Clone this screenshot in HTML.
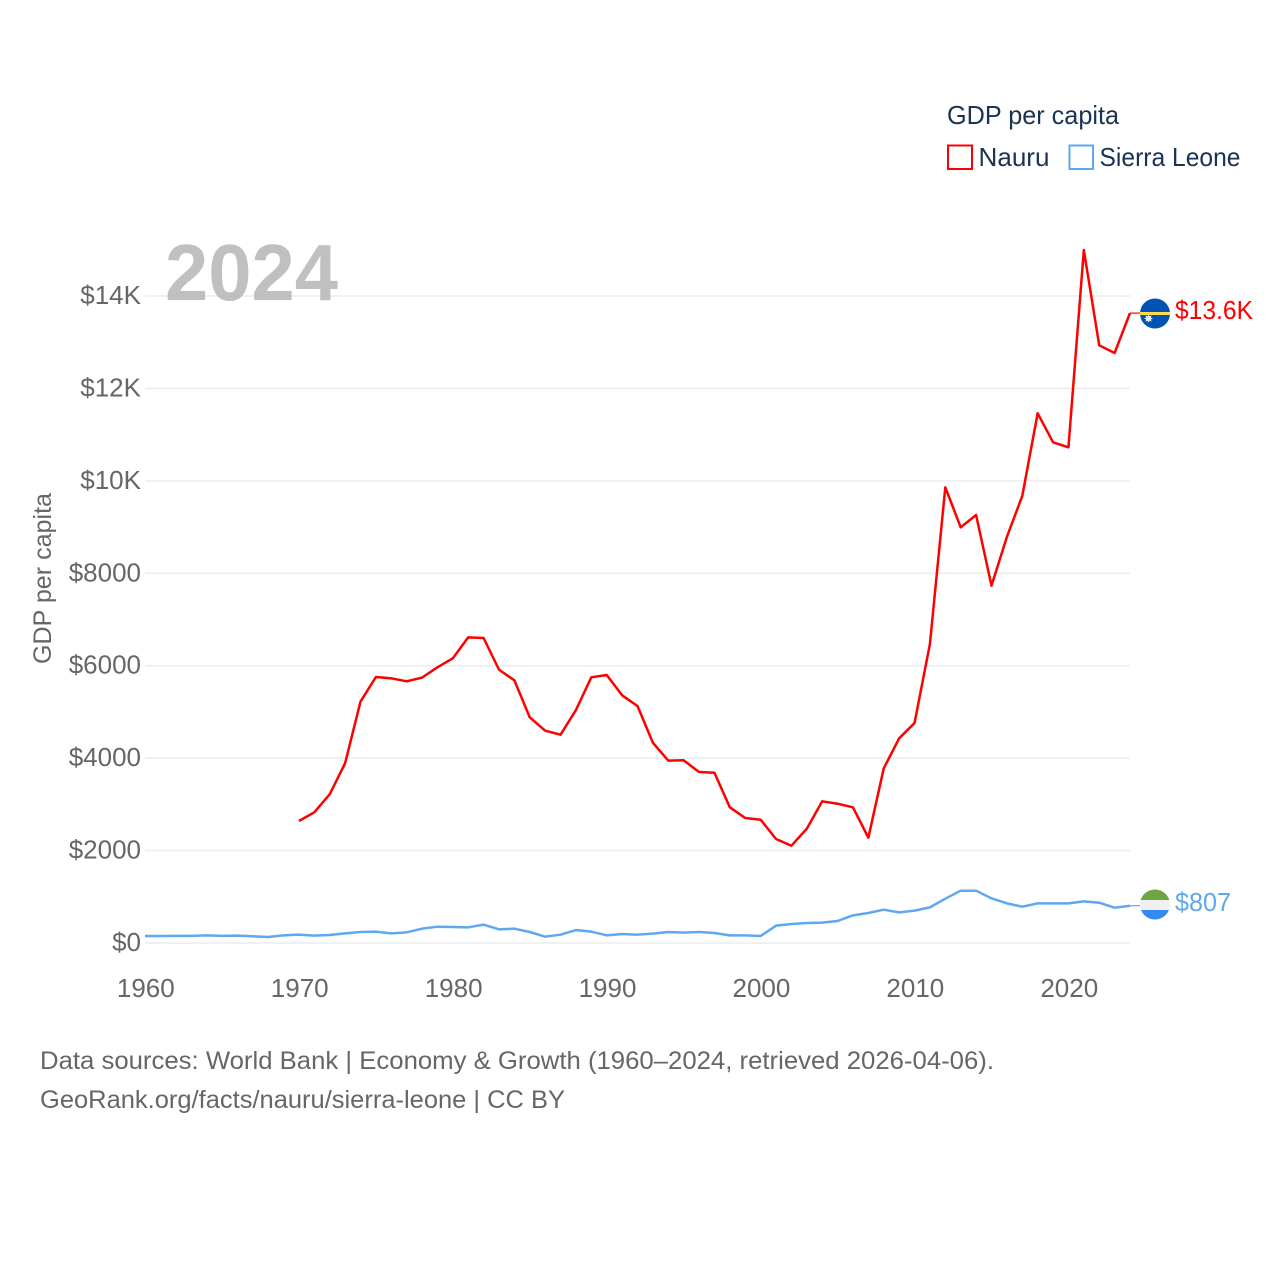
<!DOCTYPE html>
<html lang="en">
<head>
<meta charset="utf-8">
<title>GDP per capita: Nauru and Sierra Leone</title>
<style>
html,body{margin:0;padding:0;background:#fff;width:1280px;height:1280px;overflow:hidden}
svg{display:block;font-family:"Liberation Sans",sans-serif}
</style>
</head>
<body>
<svg id="chart" width="1280" height="1280" viewBox="0 0 1280 1280" xmlns="http://www.w3.org/2000/svg">
  <g id="grid"></g>
  <g id="yticks"></g>
  <g id="xticks"></g>
  <text transform="translate(51,664) rotate(-90)" font-size="25" fill="#666" textLength="171" lengthAdjust="spacingAndGlyphs">GDP per capita</text>
  <text x="165" y="300" font-size="80" font-weight="700" fill="#b5b5b5" fill-opacity="0.85" textLength="173" lengthAdjust="spacingAndGlyphs">2024</text>
  <g id="series"></g>
  <g>
    <circle cx="1155" cy="313.5" r="15" fill="#0052b4"/>
    <rect x="1140" y="312" width="30" height="3" fill="#ffda44"/>
    <polygon points="1148.5,314.2 1149.5,316.4 1151.6,315.4 1150.8,317.600 1153,318.500 1150.800,319.400 1151.600,321.600 1149.500,320.600 1148.500,322.800 1147.500,320.600 1145.400,321.600 1146.200,319.400 1144,318.500 1146.200,317.600 1145.400,315.400 1147.500,316.400" fill="#e8f0f8"/>
  </g>
  <g>
    <clipPath id="sl-clip"><circle cx="1155" cy="904.5" r="15"/></clipPath>
    <g clip-path="url(#sl-clip)">
      <rect x="1140" y="889" width="30" height="11" fill="#6da544"/>
      <rect x="1140" y="900" width="30" height="10" fill="#f0f0f0"/>
      <rect x="1140" y="910" width="30" height="10" fill="#338af3"/>
    </g>
  </g>
  <text x="1175" y="319" font-size="26" fill="#ff0000" textLength="78" lengthAdjust="spacingAndGlyphs">$13.6K</text>
  <text x="1175" y="911" font-size="26" fill="#5fa8f0" textLength="56" lengthAdjust="spacingAndGlyphs">$807</text>
  <g>
    <text x="947" y="124" font-size="26" fill="#1a3353" textLength="172" lengthAdjust="spacingAndGlyphs">GDP per capita</text>
    <rect x="948" y="145.500" width="24" height="23.500" fill="none" stroke="#ff0000" stroke-width="2"/>
    <text x="978.500" y="166" font-size="26" fill="#1a3353" textLength="71" lengthAdjust="spacingAndGlyphs">Nauru</text>
    <rect x="1069.500" y="145.500" width="23.500" height="23.500" fill="none" stroke="#5fa8f0" stroke-width="2"/>
    <text x="1099.500" y="166" font-size="26" fill="#1a3353" textLength="141" lengthAdjust="spacingAndGlyphs">Sierra Leone</text>
  </g>
  <g>
    <text x="40" y="1069" font-size="25" fill="#666" textLength="954" lengthAdjust="spacingAndGlyphs">Data sources: World Bank | Economy &amp; Growth (1960–2024, retrieved 2026-04-06).</text>
    <text x="40" y="1108" font-size="25" fill="#666" textLength="525" lengthAdjust="spacingAndGlyphs">GeoRank.org/facts/nauru/sierra-leone | CC BY</text>
  </g>
</svg>
<script>
const yTickValues = [0, 2000, 4000, 6000, 8000, 10000, 12000, 14000];
const yTickLabels = ["$0", "$2000", "$4000", "$6000", "$8000", "$10K", "$12K", "$14K"];
const xTickYears = [1960, 1970, 1980, 1990, 2000, 2010, 2020];
const sierraYears = [1960,1961,1962,1963,1964,1965,1966,1967,1968,1969,1970,1971,1972,1973,1974,1975,1976,1977,1978,1979,1980,1981,1982,1983,1984,1985,1986,1987,1988,1989,1990,1991,1992,1993,1994,1995,1996,1997,1998,1999,2000,2001,2002,2003,2004,2005,2006,2007,2008,2009,2010,2011,2012,2013,2014,2015,2016,2017,2018,2019,2020,2021,2022,2023,2024];
const sierraValues = [151,151,155,155,166,155,159,145,130,166,180,159,173,209,238,245,209,231,310,353,346,339,397,296,310,238,137,180,281,245,166,195,180,202,238,224,238,216,166,166,151,375,411,433,440,476,598,649,721,663,700,771,959,1132,1132,966,858,786,858,858,858,901,872,764,807];
const nauruYears = [1970,1971,1972,1973,1974,1975,1976,1977,1978,1979,1980,1981,1982,1983,1984,1985,1986,1987,1988,1989,1990,1991,1992,1993,1994,1995,1996,1997,1998,1999,2000,2001,2002,2003,2004,2005,2006,2007,2008,2009,2010,2011,2012,2013,2014,2015,2016,2017,2018,2019,2020,2021,2022,2023,2024];
const nauruValues = [2640,2828,3217,3888,5222,5756,5727,5662,5742,5965,6160,6614,6600,5915,5684,4883,4594,4507,5042,5749,5799,5360,5128,4334,3945,3953,3700,3685,2936,2705,2668,2250,2105,2473,3066,3014,2936,2279,3780,4429,4760,6470,9860,8995,9261,7732,8786,9673,11462,10834,10726,14995,12933,12767,13630];

const SVG_NS = "http://www.w3.org/2000/svg";
const xScale = function (year) { return 145 + (year - 1960) * (1130 - 145) / 64; };
const yScale = function (value) { return 943 - value * (943 - 296) / 14000; };
const leaderEndX = 1140;

const gridLayer = document.getElementById("grid");
const yTickLayer = document.getElementById("yticks");
const xTickLayer = document.getElementById("xticks");
const seriesLayer = document.getElementById("series");

yTickValues.forEach(function (value, i) {
  const line = document.createElementNS(SVG_NS, "line");
  
  
  line.setAttribute("x1", xScale(1960));
  line.setAttribute("x2", xScale(2024));
  line.setAttribute("y1", yScale(value));
  line.setAttribute("y2", yScale(value));
  line.setAttribute("stroke", "#ececec");
  line.setAttribute("stroke-width", "1.5");
  gridLayer.appendChild(line);

  const label = document.createElementNS(SVG_NS, "text");
  
  
  label.setAttribute("x", 141);
  label.setAttribute("y", yScale(value) + 8);
  label.setAttribute("text-anchor", "end");
  label.setAttribute("font-size", "26");
  label.setAttribute("fill", "#666");
  label.textContent = yTickLabels[i];
  yTickLayer.appendChild(label);
});

xTickYears.forEach(function (year) {
  const label = document.createElementNS(SVG_NS, "text");
  
  
  label.setAttribute("x", xScale(year) + 0.8);
  label.setAttribute("y", 997);
  label.setAttribute("text-anchor", "middle");
  label.setAttribute("font-size", "26");
  label.setAttribute("fill", "#666");
  label.textContent = year;
  xTickLayer.appendChild(label);
});

function pathFor(years, values) {
  return years.map(function (year, i) {
    return (i ? "L" : "M") + xScale(year).toFixed(2) + " " + yScale(values[i]).toFixed(2);
  }).join(" ");
}

const sierraLine = document.createElementNS(SVG_NS, "path");


sierraLine.setAttribute("d", pathFor(sierraYears, sierraValues));
sierraLine.setAttribute("fill", "none");
sierraLine.setAttribute("stroke", "#5fa8f0");
sierraLine.setAttribute("stroke-width", "2.5");
sierraLine.setAttribute("stroke-linejoin", "round");
seriesLayer.appendChild(sierraLine);

const nauruLine = document.createElementNS(SVG_NS, "path");


nauruLine.setAttribute("d", pathFor(nauruYears, nauruValues));
nauruLine.setAttribute("fill", "none");
nauruLine.setAttribute("stroke", "#ff0000");
nauruLine.setAttribute("stroke-width", "2.5");
nauruLine.setAttribute("stroke-linejoin", "round");
seriesLayer.appendChild(nauruLine);

const sierraLeader = document.createElementNS(SVG_NS, "line");


sierraLeader.setAttribute("x1", xScale(2024));
sierraLeader.setAttribute("x2", leaderEndX);
sierraLeader.setAttribute("y1", yScale(sierraValues[sierraValues.length - 1]));
sierraLeader.setAttribute("y2", yScale(sierraValues[sierraValues.length - 1]));
sierraLeader.setAttribute("stroke", "#5fa8f0");
sierraLeader.setAttribute("stroke-width", "1.2");
seriesLayer.appendChild(sierraLeader);

const nauruLeader = document.createElementNS(SVG_NS, "line");


nauruLeader.setAttribute("x1", xScale(2024));
nauruLeader.setAttribute("x2", leaderEndX);
nauruLeader.setAttribute("y1", yScale(nauruValues[nauruValues.length - 1]));
nauruLeader.setAttribute("y2", yScale(nauruValues[nauruValues.length - 1]));
nauruLeader.setAttribute("stroke", "#ff0000");
nauruLeader.setAttribute("stroke-width", "1.2");
seriesLayer.appendChild(nauruLeader);
</script>
</body>
</html>
